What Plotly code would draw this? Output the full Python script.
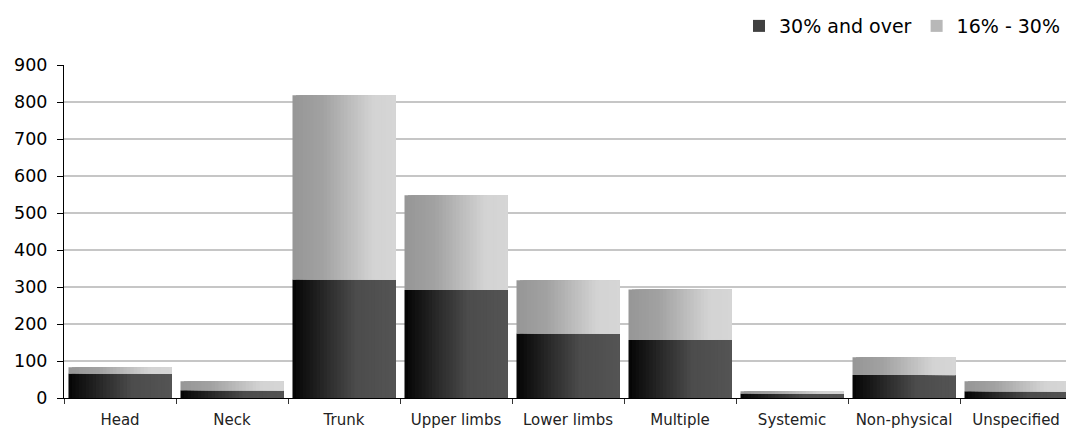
import plotly.graph_objects as go

# Injury location counts by severity band
categories = ["Head", "Neck", "Trunk", "Upper limbs", "Lower limbs",
              "Multiple", "Systemic", "Non-physical", "Unspecified"]
over_30 = [66, 21, 320, 292, 174, 157, 12, 62, 18]
band_16_30 = [17, 24, 498, 256, 144, 136, 6, 48, 27]
series_names = ["30% and over", "16% - 30%"]
y_ticks = [0, 100, 200, 300, 400, 500, 600, 700, 800, 900]

# Horizontal shading of each bar: (position across bar, grey level)
DARK_STOPS = [(0.0, 4), (0.62, 76), (1.0, 84)]
LIGHT_STOPS = [(0.0, 150), (0.3, 162), (0.78, 211), (1.0, 214)]

BAR_W = 0.92
SLICES = 30
FONT = "DejaVu Sans"


def grey(stops, t):
    for (t0, g0), (t1, g1) in zip(stops, stops[1:]):
        if t <= t1:
            g = g0 + (g1 - g0) * (t - t0) / (t1 - t0)
            g = int(round(g))
            return f"rgb({g},{g},{g})"
    g = stops[-1][1]
    return f"rgb({g},{g},{g})"


fig = go.Figure()


def add_shaded_series(values, base, stops, name, legend_slice):
    # each slice runs from its own left edge to the bar's right edge,
    # drawn left to right so the shading builds up without seams
    for i in range(SLICES):
        frac = i / SLICES
        fig.add_trace(go.Bar(
            x=categories,
            y=values,
            base=base,
            width=BAR_W * (1 - frac),
            offset=-BAR_W / 2 + BAR_W * frac,
            marker=dict(color=grey(stops, frac + 0.5 / SLICES), line=dict(width=0)),
            name=name,
            legendgroup=name,
            showlegend=(i == legend_slice),
            hoverinfo="skip" if i else "y+name",
        ))


add_shaded_series(over_30, [0] * len(over_30), DARK_STOPS, series_names[0], SLICES // 2)
add_shaded_series(band_16_30, over_30, LIGHT_STOPS, series_names[1], SLICES // 2)

fig.update_layout(
    width=1066,
    height=429,
    margin=dict(l=64, r=0, t=65, b=31),
    paper_bgcolor="white",
    plot_bgcolor="white",
    barmode="overlay",
    font=dict(family=FONT, color="#000000"),
    legend=dict(
        orientation="h",
        x=1.0,
        xanchor="right",
        y=1.117,
        yanchor="middle",
        font=dict(size=19, family=FONT, color="#000000"),
        itemwidth=30,
        tracegroupgap=0,
        bgcolor="rgba(0,0,0,0)",
    ),
    xaxis=dict(
        type="category",
        range=[-0.5, 8.446],
        automargin=False,
        showgrid=False,
        showline=True,
        linecolor="#000000",
        linewidth=1,
        ticks="outside",
        tickson="boundaries",
        ticklen=5,
        tickcolor="#333333",
        tickfont=dict(size=15, family=FONT, color="#222222"),
        ticklabelstandoff=8,
        zeroline=False,
    ),
    yaxis=dict(
        range=[0, 900],
        tickvals=y_ticks,
        automargin=False,
        showgrid=True,
        gridcolor="#c6c6c6",
        gridwidth=2,
        showline=True,
        linecolor="#000000",
        linewidth=1,
        ticks="outside",
        ticklen=6,
        tickcolor="#000000",
        tickfont=dict(size=17.5, family=FONT, color="#000000"),
        ticklabelstandoff=6,
        zeroline=False,
    ),
)

fig.write_html("out.html")
